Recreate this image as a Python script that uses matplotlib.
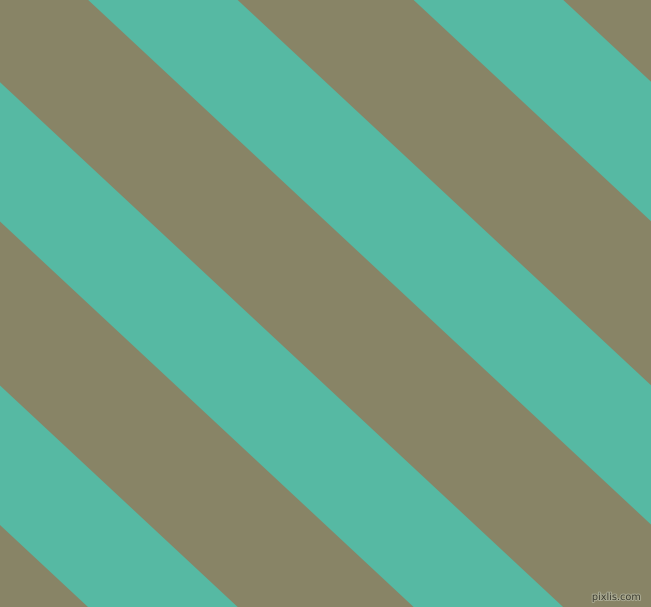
import numpy as np
import matplotlib.pyplot as plt
import matplotlib.patheffects as pe

# stripe pattern (pixel units, y axis pointing down)
slope = 0.932                      # dy/dx of every stripe edge
# teal bands as (upper edge, lower edge) offsets at x = 0; the rest is khaki
teal_top = [-830, -525, -221.5, 82.2, 385.5, 664.5]
teal_bottom = [-664.5, -385.5, -82.2, 221.5, 525, 830]
khaki = "#888466"
teal = "#56b9a3"

W, H = 651, 607

fig = plt.figure(figsize=(W / 100, H / 100), dpi=100)
fig.patch.set_facecolor(khaki)
ax = fig.add_axes([0, 0, 1, 1])
ax.set_facecolor(khaki)
ax.set_xlim(0, W)
ax.set_ylim(H, 0)
ax.axis("off")

x = np.array([-20.0, W + 20.0])
for c0, c1 in zip(teal_top, teal_bottom):
    ax.fill_between(x, slope * x + c0, slope * x + c1, color=teal, lw=0)

# watermark
ax.text(641, 597, "pixlis.com", fontsize=7, color="#3c3c30", ha="right", va="center",
        fontfamily="DejaVu Sans",
        path_effects=[pe.withStroke(linewidth=1.5, foreground="#a8a890")])

fig.savefig("out.png", dpi=100, facecolor=khaki)
